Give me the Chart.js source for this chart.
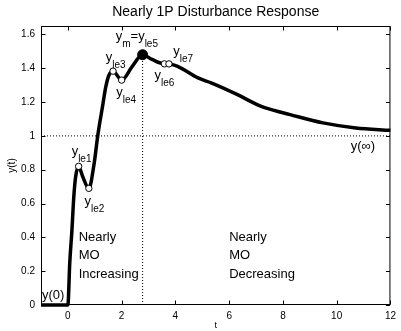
<!DOCTYPE html>
<html>
<head>
<meta charset="utf-8">
<script src="https://cdn.jsdelivr.net/npm/chart.js@4/dist/chart.umd.min.js"></script>
<style>
html, body { margin: 0; padding: 0; background: #fff; }
</style>
</head>
<body>
<canvas id="resp" width="401" height="331"></canvas>
<script>
// response curve
var tVals = [-1, 0, 0.07, 0.15, 0.22, 0.29, 0.40, 0.55, 0.78, 0.98, 1.11, 1.29, 1.41, 1.53, 1.68, 2.0, 2.39, 2.78, 3.13, 3.59, 3.76, 4.1, 4.84, 5.33, 6.31, 7.04, 7.35, 8.27, 9.49, 10.71, 12];
var yVals = [0, 0, 0.25, 0.44, 0.64, 0.76, 0.82, 0.76, 0.69, 0.84, 1.0, 1.175, 1.29, 1.36, 1.383, 1.33, 1.41, 1.48, 1.452, 1.426, 1.426, 1.41, 1.343, 1.314, 1.244, 1.185, 1.166, 1.126, 1.077, 1.047, 1.033];
// local extrema y_le1..y_le7 (le5 is the max)
var leT = [0.40, 0.78, 1.68, 2.0, 3.59, 3.76];
var leY = [0.82, 0.69, 1.383, 1.33, 1.426, 1.426];
var peakT = [2.78];
var peakY = [1.48];
var finalY = 1;
var xTicks = [0, 2, 4, 6, 8, 10, 12];
var yTicks = [0, 0.2, 0.4, 0.6, 0.8, 1, 1.2, 1.4, 1.6];
var xRange = [-1, 12];
var yRange = [0, 1.65];

var FONT = 'Liberation Sans, Arial, Helvetica, sans-serif';
Chart.defaults.font.family = FONT;
Chart.defaults.color = '#000';

function pts(xs, ys) {
    return xs.map(function (x, i) { return { x: x, y: ys[i] }; });
}

// text labels: anchor in data units, parts are [text, isSubscript]
var notes = [
    { t: 0.14, y: 0.889, parts: [['y', 0], ['le1', 1]] },
    { t: 0.615, y: 0.593, parts: [['y', 0], ['le2', 1]] },
    { t: 1.41, y: 1.443, parts: [['y', 0], ['le3', 1]] },
    { t: 1.80, y: 1.236, parts: [['y', 0], ['le4', 1]] },
    { t: 1.78, y: 1.570, parts: [['y', 0], ['m', 1], ['=y', 0], ['le5', 1]] },
    { t: 3.22, y: 1.336, parts: [['y', 0], ['le6', 1]] },
    { t: 3.92, y: 1.476, parts: [['y', 0], ['le7', 1]] },
    { t: -0.963, y: 0.033, parts: [['y(0)', 0]] },
    { t: 10.52, y: 0.919, parts: [['y(\u221e)', 0]] },
    { t: 0.40, y: 0.379, parts: [['Nearly', 0]] },
    { t: 0.40, y: 0.273, parts: [['MO', 0]] },
    { t: 0.40, y: 0.160, parts: [['Increasing', 0]] },
    { t: 6.0, y: 0.379, parts: [['Nearly', 0]] },
    { t: 6.0, y: 0.273, parts: [['MO', 0]] },
    { t: 6.0, y: 0.160, parts: [['Decreasing', 0]] }
];

var matlabBox = {
    id: 'matlabBox',
    afterDatasetsDraw: function (chart) {
        var ctx = chart.ctx, a = chart.chartArea;
        var xs = chart.scales.x, ys = chart.scales.y;
        ctx.save();
        ctx.fillStyle = '#000';
        ctx.textBaseline = 'alphabetic';
        ctx.textAlign = 'left';
        notes.forEach(function (n) {
            var px = xs.getPixelForValue(n.t);
            var py = ys.getPixelForValue(n.y);
            n.parts.forEach(function (p) {
                ctx.font = (p[1] ? '10px ' : '13px ') + FONT;
                ctx.fillText(p[0], px, py + (p[1] ? 7 : 0));
                px += ctx.measureText(p[0]).width;
            });
        });
        // box with inward ticks on all sides
        ctx.strokeStyle = '#000';
        ctx.lineWidth = 1;
        var L = a.left + 0.5, R = a.right - 0.5, T = a.top + 0.5, B = a.bottom - 0.5;
        ctx.strokeRect(L, T, R - L, B - T);
        ctx.beginPath();
        xTicks.forEach(function (v) {
            var x = Math.round(xs.getPixelForValue(v)) + 0.5;
            ctx.moveTo(x, B); ctx.lineTo(x, B - 4);
            ctx.moveTo(x, T); ctx.lineTo(x, T + 4);
        });
        yTicks.forEach(function (v) {
            var y = Math.round(ys.getPixelForValue(v)) + 0.5;
            ctx.moveTo(L, y); ctx.lineTo(L + 4, y);
            ctx.moveTo(R, y); ctx.lineTo(R - 4, y);
        });
        ctx.stroke();
        ctx.restore();
    }
};

new Chart(document.getElementById('resp'), {
    type: 'line',
    data: {
        datasets: [
            {
                label: 'extrema',
                data: pts(leT, leY),
                showLine: false,
                pointRadius: 3.2,
                pointBackgroundColor: '#fff',
                pointBorderColor: '#000',
                pointBorderWidth: 1,
                order: 0
            },
            {
                label: 'max',
                data: pts(peakT, peakY),
                showLine: false,
                pointRadius: 5,
                pointBackgroundColor: '#000',
                pointBorderColor: '#000',
                order: 0
            },
            {
                label: 'y(t)',
                data: pts(tVals, yVals),
                borderColor: '#000',
                borderWidth: 3.5,
                pointRadius: 0,
                cubicInterpolationMode: 'monotone',
                clip: false,
                order: 1
            },
            {
                label: 'final',
                data: pts(xRange, [finalY, finalY]),
                borderColor: '#000',
                borderWidth: 1,
                borderDash: [1, 2],
                pointRadius: 0,
                order: 2
            },
            {
                label: 'tmax',
                data: pts([peakT[0], peakT[0]], [0, peakY[0]]),
                borderColor: '#000',
                borderWidth: 1,
                borderDash: [1, 2],
                pointRadius: 0,
                order: 2
            }
        ]
    },
    options: {
        responsive: false,
        animation: false,
        layout: { padding: { left: 0, right: 6, top: 0, bottom: 0 } },
        plugins: {
            legend: { display: false },
            tooltip: { enabled: false },
            title: {
                display: true,
                text: 'Nearly 1P Disturbance Response',
                fullSize: false,
                color: '#000',
                font: { size: 14, weight: 'normal' },
                padding: { top: 3.8, bottom: 5.4 }
            }
        },
        scales: {
            x: {
                type: 'linear',
                min: xRange[0],
                max: xRange[1],
                afterBuildTicks: function (s) { s.ticks = xTicks.map(function (v) { return { value: v }; }); },
                afterFit: function (s) { s.height = 26; },
                grid: { display: false, drawTicks: false },
                border: { display: false },
                ticks: { font: { size: 10 }, padding: 5, maxRotation: 0, callback: function (v) { return String(v); } },
                title: { display: true, text: 't', font: { size: 9 }, padding: { top: 0, bottom: 0 } }
            },
            y: {
                type: 'linear',
                min: yRange[0],
                max: yRange[1],
                afterBuildTicks: function (s) { s.ticks = yTicks.map(function (v) { return { value: v }; }); },
                afterFit: function (s) { s.width = 41; },
                grid: { display: false, drawTicks: false },
                border: { display: false },
                ticks: { font: { size: 10 }, padding: 6, callback: function (v) { return String(v); } },
                title: { display: true, text: 'y(t)', font: { size: 10 }, padding: { top: 6, bottom: 0 } }
            }
        }
    },
    plugins: [matlabBox]
});
</script>
</body>
</html>
